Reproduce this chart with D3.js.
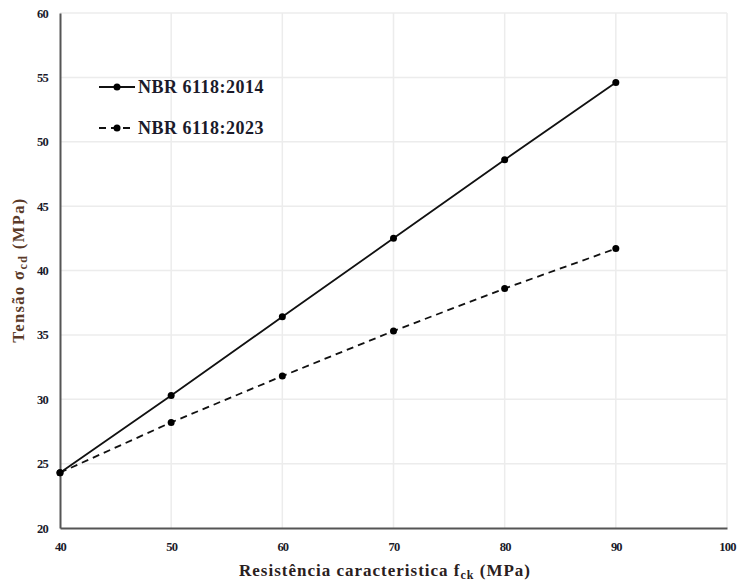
<!DOCTYPE html>
<html><head><meta charset="utf-8">
<script src="https://cdn.jsdelivr.net/npm/d3@7"></script>
<style>body{margin:0;background:#fff;}</style>
</head><body>
<svg id="c" width="740" height="581"></svg>
<script>
const categories = [40, 50, 60, 70, 80, 90];
const nbr2014 = [24.3, 30.3, 36.4, 42.5, 48.6, 54.6];
const nbr2023 = [24.3, 28.2, 31.8, 35.3, 38.6, 41.7];
const xTicks = [40, 50, 60, 70, 80, 90, 100];
const yTicks = [20, 25, 30, 35, 40, 45, 50, 55, 60];
const seriesNames = ["NBR 6118:2014", "NBR 6118:2023"];

const FONT = "'Liberation Serif', 'Times New Roman', Times, 'DejaVu Serif', serif";
const svg = d3.select("#c").attr("font-family", FONT);
const x = d3.scaleLinear().domain([40, 100]).range([60, 727]);
const y = d3.scaleLinear().domain([20, 60]).range([528, 13]);

// gridlines
svg.append("g").selectAll("line").data(yTicks.slice(1)).join("line")
  .attr("x1", 60).attr("x2", 727).attr("y1", d => y(d)).attr("y2", d => y(d))
  .attr("stroke", "#ececec").attr("stroke-width", 1.5);
svg.append("g").selectAll("line").data(xTicks.slice(1)).join("line")
  .attr("y1", 13).attr("y2", 528).attr("x1", d => x(d)).attr("x2", d => x(d))
  .attr("stroke", "#ececec").attr("stroke-width", 1.5);

// axes
const yAxis = svg.append("g").attr("transform", "translate(60,0)")
  .call(d3.axisLeft(y).tickValues(yTicks).tickSize(0).tickPadding(12));
yAxis.attr("font-family", FONT);
yAxis.select(".domain").attr("stroke", "#555").attr("stroke-width", 2);
yAxis.selectAll("text").attr("font-size", 12.5).attr("font-weight", "bold").attr("fill", "#1a1a2a")
  .style("font-family", FONT).attr("letter-spacing", "-0.8");

const xAxis = svg.append("g").attr("transform", "translate(0,528)")
  .call(d3.axisBottom(x).tickValues(xTicks).tickSize(0).tickPadding(14));
xAxis.attr("font-family", FONT);
xAxis.select(".domain").attr("stroke", "#555").attr("stroke-width", 2);
xAxis.selectAll("text").attr("font-size", 12.5).attr("font-weight", "bold").attr("fill", "#1a1a2a")
  .style("font-family", FONT).attr("letter-spacing", "-0.8");

// lines
const line = d3.line().x((d, i) => x(categories[i])).y(d => y(d));
svg.append("path").datum(nbr2014).attr("d", line).attr("fill", "none")
  .attr("stroke", "#111").attr("stroke-width", 1.8);
svg.append("path").datum(nbr2023).attr("d", line).attr("fill", "none")
  .attr("stroke", "#111").attr("stroke-width", 1.8).attr("stroke-dasharray", "7,5");
[nbr2014, nbr2023].forEach(s => {
  svg.append("g").selectAll("circle").data(s).join("circle")
    .attr("cx", (d, i) => x(categories[i])).attr("cy", d => y(d)).attr("r", 3.5).attr("fill", "#000");
});

// legend
const leg = svg.append("g");
const legY = [87, 128];
seriesNames.forEach((n, i) => {
  leg.append("line").attr("x1", 99).attr("x2", 135).attr("y1", legY[i]).attr("y2", legY[i])
    .attr("stroke", "#111").attr("stroke-width", 1.8)
    .attr("stroke-dasharray", i === 1 ? "7,5" : null);
  leg.append("circle").attr("cx", 117).attr("cy", legY[i]).attr("r", 3.5).attr("fill", "#000");
  leg.append("text").attr("x", 138).attr("y", legY[i] + 5.5).text(n)
    .attr("font-size", 18).attr("font-weight", "bold").attr("fill", "#1a1a2a")
    .style("font-family", FONT).attr("letter-spacing", "0.5");
});

// axis titles
const xt = svg.append("text").attr("x", 385).attr("y", 576).attr("text-anchor", "middle")
  .attr("font-size", 17).attr("font-weight", "bold").attr("fill", "#2a2020").attr("letter-spacing", "1")
  .style("font-family", FONT);
xt.append("tspan").text("Resistência caracteristica f");
xt.append("tspan").text("ck").attr("font-size", 12).attr("dy", 3);
xt.append("tspan").text(" (MPa)").attr("dy", -3);

const yt = svg.append("text").attr("transform", "translate(24,270) rotate(-90)").attr("text-anchor", "middle")
  .attr("font-size", 16.5).attr("font-weight", "bold").attr("fill", "#5a3a28").attr("letter-spacing", "1.4")
  .style("font-family", FONT);
yt.append("tspan").text("Tensão σ");
yt.append("tspan").text("cd").attr("font-size", 12).attr("dy", 3);
yt.append("tspan").text(" (MPa)").attr("dy", -3);
</script>
</body></html>
